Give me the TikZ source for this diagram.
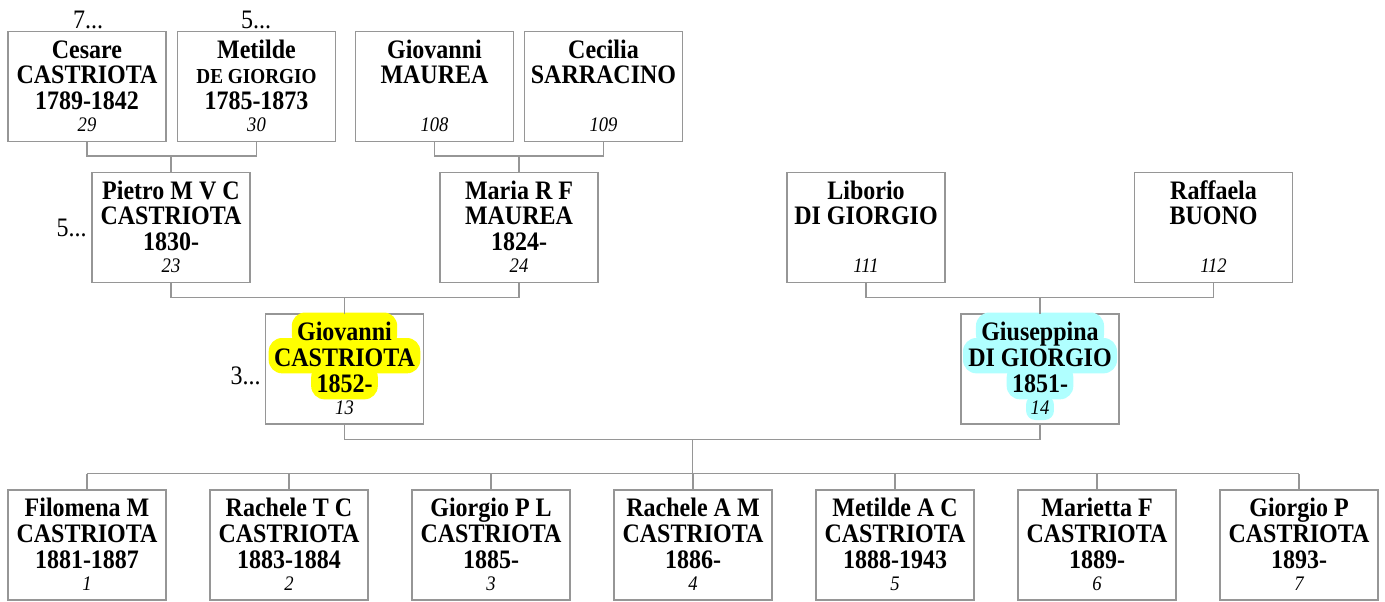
\documentclass[tikz,border=0pt]{standalone}
\usepackage{fontspec}
\setmainfont{Liberation Serif}[FakeStretch=0.9]
\usetikzlibrary{calc,backgrounds}
\definecolor{lc}{RGB}{150,150,150}
\definecolor{hly}{RGB}{255,255,0}
\definecolor{hlc}{RGB}{176,255,255}
\tikzset{
 pbox/.style={draw=lc, line width=0.85pt, minimum width=118.5pt, minimum height=82.5pt, inner sep=0pt, outer sep=0pt},
 nm/.style={font=\fontsize{20}{22}\selectfont\bfseries, anchor=base, inner sep=0pt},
 nms/.style={font=\fontsize{16}{18}\selectfont\bfseries, anchor=base, inner sep=0pt},
 num/.style={font=\fontsize{15.5}{17}\selectfont\itshape, anchor=base, inner sep=0pt},
 gen/.style={font=\fontsize{20}{22}\selectfont, anchor=base, inner sep=0pt},
 conn/.style={draw=lc, line width=0.85pt},
 hl/.style={anchor=base, inner xsep=4pt, inner ysep=0pt, text height=21pt, text depth=5.5pt, rounded corners=10pt},
 hln/.style={anchor=base, inner xsep=3.5pt, inner ysep=0pt, text height=14pt, text depth=4.5pt, rounded corners=7pt},
}
\newcommand\person[8]{%
  \begin{scope}[on background layer]
  \node[pbox] (#1) at (#2,{#3+55}) {};
  \end{scope}
  \node[nm] (#1-a) at (#2,{#3+26.5}) {#4};
  \node[#8] (#1-b) at (#2,{#3+52}) {#5};
  \node[nm] (#1-c) at (#2,{#3+78}) {#6};
  \node[num] (#1-d) at (#2,{#3+100}) {#7};
}
\begin{document}
\begin{tikzpicture}[x=0.75pt,y=-0.75pt]
\useasboundingbox (0,0) rectangle (1385,601);
% row 1
\person{cesare}{87}{31.5}{Cesare}{CASTRIOTA}{1789-1842}{29}{nm}
\person{metilde}{256.5}{31.5}{Metilde}{DE GIORGIO}{1785-1873}{30}{nms}
\person{giovm}{434.5}{31.5}{Giovanni}{MAUREA}{}{108}{nm}
\person{cecilia}{603.5}{31.5}{Cecilia}{SARRACINO}{}{109}{nm}
% row 2
\person{pietro}{171}{172.5}{Pietro M V C}{CASTRIOTA}{1830-}{23}{nm}
\person{maria}{519}{172.5}{Maria R F}{MAUREA}{1824-}{24}{nm}
\person{liborio}{866}{172.5}{Liborio}{DI GIORGIO}{}{111}{nm}
\person{raffaela}{1213.5}{172.5}{Raffaela}{BUONO}{}{112}{nm}
% row 3
\person{giovanni}{344.5}{314}{Giovanni}{CASTRIOTA}{1852-}{13}{nm}
\person{giuseppina}{1040}{314}{Giuseppina}{DI GIORGIO}{1851-}{14}{nm}
% row 4
\person{c1}{87}{490}{Filomena M}{CASTRIOTA}{1881-1887}{1}{nm}
\person{c2}{289}{490}{Rachele T C}{CASTRIOTA}{1883-1884}{2}{nm}
\person{c3}{491}{490}{Giorgio P L}{CASTRIOTA}{1885-}{3}{nm}
\person{c4}{693}{490}{Rachele A M}{CASTRIOTA}{1886-}{4}{nm}
\person{c5}{895}{490}{Metilde A C}{CASTRIOTA}{1888-1943}{5}{nm}
\person{c6}{1097}{490}{Marietta F}{CASTRIOTA}{1889-}{6}{nm}
\person{c7}{1299}{490}{Giorgio P}{CASTRIOTA}{1893-}{7}{nm}
% highlights (above the box borders, below the text)
\begin{scope}[on background layer]
\node[nm,hl,fill=hly] (h1) at (344.5,340.5) {\phantom{Giovanni}};
\node[nm,hl,fill=hly] (h2) at (344.5,366) {\phantom{CASTRIOTA}};
\node[nm,hl,fill=hly] (h3) at (344.5,392) {\phantom{1852-}};
\node[nm,hl,fill=hlc] (h4) at (1040,340.5) {\phantom{Giuseppina}};
\node[nm,hl,fill=hlc] (h5) at (1040,366) {\phantom{DI GIORGIO}};
\node[nm,hl,fill=hlc] (h6) at (1040,392) {\phantom{1851-}};
\node[num,hln,fill=hlc] (h7) at (1040,414) {\phantom{14}};
\end{scope}
% generation markers
\node[gen] (g1) at (88,28) {7...};
\node[gen] (g2) at (256,28) {5...};
\node[gen,anchor=base east] (g3) at (87,236) {5...};
\node[gen,anchor=base east] (g4) at (261,384) {3...};
% connectors
\coordinate (f1) at ($(cesare.south)+(0,14.5)$);
\draw[conn] (cesare.south) -- (f1) -| (metilde.south);
\draw[conn] (pietro.north) -- (pietro.north |- f1);
\coordinate (f2) at ($(giovm.south)+(0,14.5)$);
\draw[conn] (giovm.south) -- (f2) -| (cecilia.south);
\draw[conn] (maria.north) -- (maria.north |- f2);
\coordinate (f3) at ($(pietro.south)+(0,15)$);
\draw[conn] (pietro.south) -- (f3) -| (maria.south);
\draw[conn] (giovanni.north) -- (giovanni.north |- f3);
\coordinate (f4) at ($(liborio.south)+(0,15)$);
\draw[conn] (liborio.south) -- (f4) -| (raffaela.south);
\draw[conn] (giuseppina.north) -- (giuseppina.north |- f4);
\coordinate (f5) at ($(giovanni.south)+(0,15.5)$);
\draw[conn] (giovanni.south) -- (f5) -| (giuseppina.south);
\coordinate (fm) at ($(giovanni.south)!0.5!(giuseppina.south)+(0,15.5)$);
\coordinate (sib) at ($(fm)+(0,34)$);
\draw[conn] (fm) -- (sib);
\draw[conn] (sib -| c1.north) -- (sib -| c7.north);
\foreach \c in {c1,c2,c3,c4,c5,c6,c7} {\draw[conn] (\c.north) -- (\c.north |- sib);}
\end{tikzpicture}
\end{document}
